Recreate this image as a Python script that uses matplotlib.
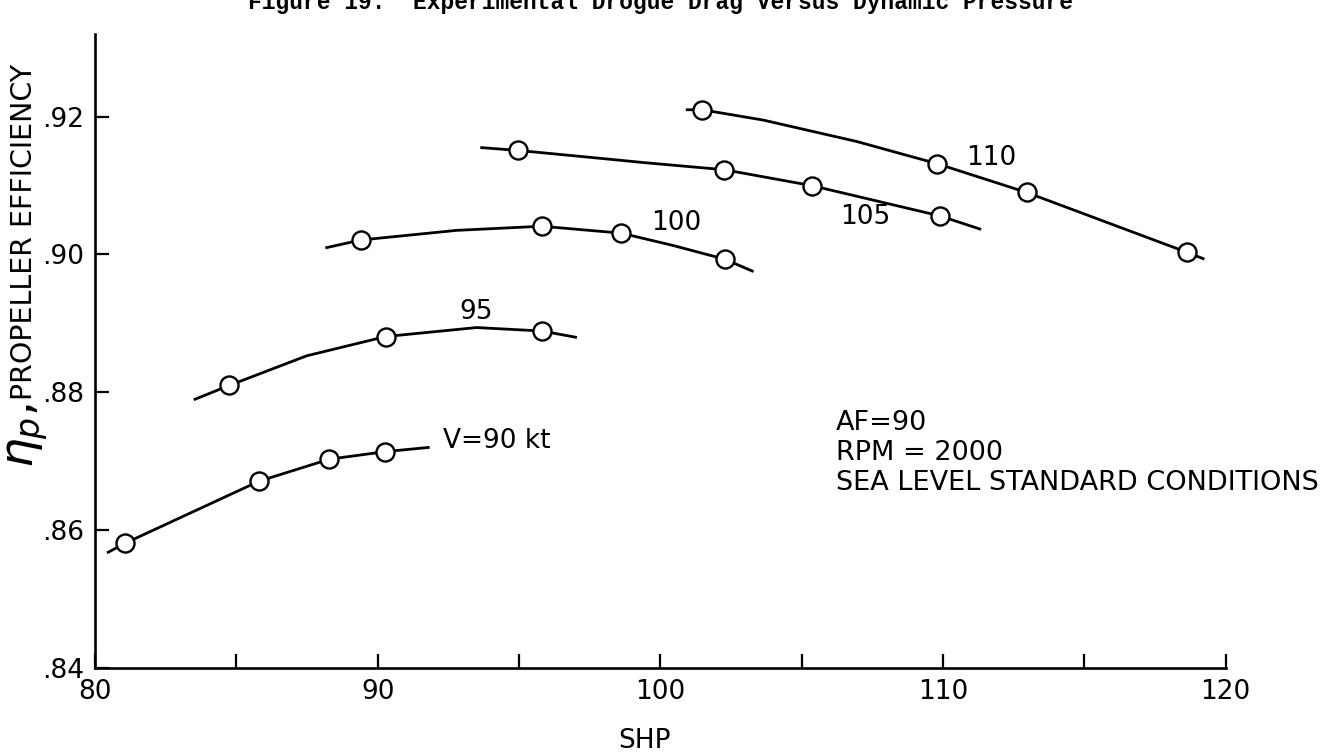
import numpy as np
import matplotlib
matplotlib.use('Agg')
import matplotlib.pyplot as plt
from matplotlib.ticker import FuncFormatter, MultipleLocator

# test points (circles)
v90_x = [81.06, 85.80, 88.29, 90.27]
v90_y = [0.8581, 0.8671, 0.8703, 0.8714]
v95_x = [84.75, 90.29, 95.80]
v95_y = [0.8810, 0.8881, 0.8889]
v100_x = [89.40, 95.80, 98.61, 102.29]
v100_y = [0.9021, 0.9041, 0.9031, 0.8993]
v105_x = [94.97, 102.26, 105.35, 109.89]
v105_y = [0.9151, 0.9123, 0.9100, 0.9056]
v110_x = [101.48, 109.77, 112.96, 118.64]
v110_y = [0.9210, 0.9132, 0.9090, 0.9003]

# faired curves
c90_x = [80.47, 81.06, 85.80, 88.29, 90.27, 91.79]
c90_y = [0.8568, 0.8581, 0.8671, 0.8703, 0.8714, 0.8720]
c95_x = [83.54, 84.75, 87.49, 90.29, 93.50, 95.80, 97.00]
c95_y = [0.8790, 0.8810, 0.8853, 0.8881, 0.8894, 0.8889, 0.8880]
c100_x = [88.20, 89.40, 92.79, 95.80, 98.61, 100.46, 102.29, 103.25]
c100_y = [0.9010, 0.9021, 0.9035, 0.9041, 0.9031, 0.9013, 0.8993, 0.8976]
c105_x = [93.68, 94.97, 97.50, 99.50, 102.26, 105.35, 109.89, 111.30]
c105_y = [0.9155, 0.9151, 0.9141, 0.9133, 0.9123, 0.9100, 0.9056, 0.9037]
c110_x = [100.95, 101.48, 103.64, 106.94, 109.77, 112.96, 118.64, 119.20]
c110_y = [0.9210, 0.9210, 0.9195, 0.9164, 0.9132, 0.9090, 0.9003, 0.8994]

curve_labels = ['V=90 kt', '95', '100', '105', '110']
label_x = [92.31, 93.5, 100.57, 107.24, 111.72]
label_y = [0.8729, 0.8916, 0.9045, 0.9054, 0.9140]

plt.rcParams['font.family'] = 'DejaVu Sans'

fig = plt.figure(figsize=(13.28, 7.54), dpi=100)
ax = fig.add_axes([0.0715, 0.114, 0.8515, 0.841])

for cx, cy in [(c90_x, c90_y), (c95_x, c95_y), (c100_x, c100_y),
               (c105_x, c105_y), (c110_x, c110_y)]:
    ax.plot(cx, cy, color='black', lw=2.0, zorder=2)

for px, py in [(v90_x, v90_y), (v95_x, v95_y), (v100_x, v100_y),
               (v105_x, v105_y), (v110_x, v110_y)]:
    ax.plot(px, py, 'o', ms=13, mfc='white', mec='black', mew=1.7,
            ls='none', zorder=3)

for i, lab in enumerate(curve_labels):
    ha = 'left' if i == 0 else 'center'
    ax.text(label_x[i], label_y[i], lab, fontsize=19, ha=ha, va='center')

ax.text(106.21, 0.8775, 'AF=90\nRPM = 2000\nSEA LEVEL STANDARD CONDITIONS',
        fontsize=19.5, ha='left', va='top', linespacing=1.2)

ax.set_xlim(80, 120)
ax.set_ylim(0.84, 0.932)
ax.xaxis.set_major_locator(MultipleLocator(10))
ax.xaxis.set_minor_locator(MultipleLocator(5))
ax.yaxis.set_major_locator(MultipleLocator(0.02))
ax.yaxis.set_major_formatter(FuncFormatter(lambda v, p: ('%.2f' % v)[1:]))

for s in ['top', 'right']:
    ax.spines[s].set_visible(False)
for s in ['left', 'bottom']:
    ax.spines[s].set_linewidth(1.9)

ax.tick_params(axis='both', which='major', direction='in', length=10,
               width=1.6, labelsize=19, pad=8)
ax.tick_params(axis='x', which='minor', direction='in', length=10, width=1.6)

ax.set_xlabel('SHP', fontsize=19)
ax.xaxis.set_label_coords(0.486, -0.095)

# y label: large eta_p followed by the caption text
fig.text(0.018, 1 - 400 / 754, 'PROPELLER EFFICIENCY', rotation=90,
         fontsize=20.5, ha='center', va='bottom')
fig.text(0.021, 1 - 403 / 754, r'$\eta_p$,', rotation=90, fontsize=34,
         ha='center', va='top')

fig.text(0.497, 1 - 9 / 754,
         'Figure 19.  Experimental Drogue Drag Versus Dynamic Pressure',
         family='Liberation Mono', fontsize=16.5, fontweight='bold',
         ha='center', va='baseline')

fig.savefig('out.png', dpi=100)
